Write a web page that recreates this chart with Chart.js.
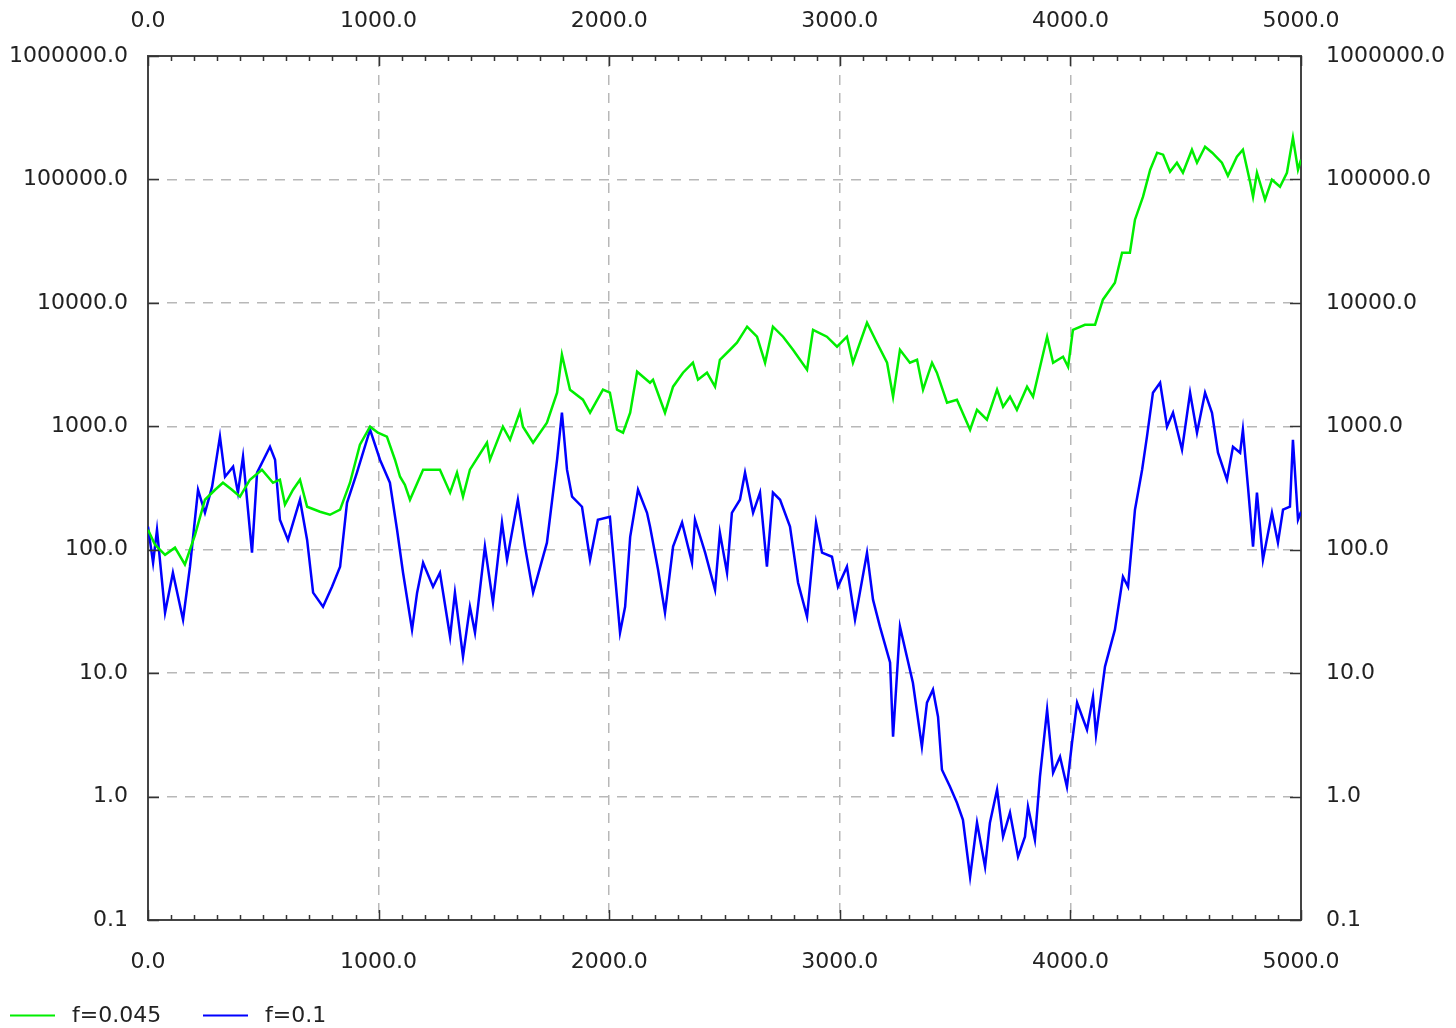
<!DOCTYPE html>
<html>
<head>
<meta charset="utf-8">
<title>f=0.045 / f=0.1</title>
<script src="https://cdn.jsdelivr.net/npm/chart.js@4.4.1/dist/chart.umd.min.js"></script>
<style>
  html, body { margin: 0; padding: 0; background: #ffffff; }
  #wrap { width: 1456px; height: 1028px; }
</style>
</head>
<body>
<div id="wrap"><canvas id="chart" width="1456" height="1028"></canvas></div>
<script>
// Step positions and values for the f=0.045 run
const greenSteps = [0, 30, 74, 117, 160, 204, 247, 291, 325, 364, 399, 442, 494, 542, 572, 594, 629, 659, 690, 746,
  789, 833, 876, 919, 963, 997, 1036, 1071, 1093, 1114, 1136, 1193, 1266, 1310, 1340, 1366, 1396, 1470, 1483, 1539,
  1570, 1613, 1626, 1670, 1730, 1774, 1795, 1830, 1886, 1917, 1973, 2003, 2034, 2060, 2091, 2121, 2177, 2190, 2242, 2277,
  2320, 2363, 2385, 2424, 2459, 2480, 2524, 2554, 2598, 2641, 2676, 2710, 2754, 2797, 2858, 2884, 2944, 2988, 3031, 3057,
  3118, 3161, 3205, 3231, 3261, 3304, 3335, 3361, 3400, 3421, 3465, 3508, 3565, 3595, 3638, 3682, 3708, 3738, 3768, 3812,
  3838, 3899, 3925, 3968, 3990, 4011, 4063, 4107, 4141, 4193, 4224, 4258, 4280, 4315, 4346, 4376, 4402, 4432, 4462, 4488,
  4527, 4549, 4584, 4615, 4657, 4683, 4722, 4748, 4779, 4792, 4809, 4844, 4874, 4909, 4939, 4965, 4987, 5000];
const greenValues = [145, 110, 91, 104, 76, 132, 254, 306, 349, 306, 269, 369, 445, 349, 369, 232, 306, 369, 223, 203,
  192, 211, 349, 709, 993, 887, 824, 536, 390, 336, 254, 445, 445, 290, 421, 269, 445, 736, 536, 993,
  778, 1312, 993, 736, 1069, 1871, 3802, 1979, 1642, 1288, 1979, 1871, 938, 887, 1288, 2767, 2254, 2384, 1288, 2094,
  2717, 3273, 2384, 2717, 2094, 3460, 4169, 4753, 6409, 5318, 3273, 6409, 5318, 4169, 2873, 6053, 5318, 4411, 5318, 3273,
  6904, 4753, 3273, 1737, 4169, 3273, 3460, 1979, 3273, 2717, 1552, 1642, 938, 1361, 1130, 1979, 1441, 1737, 1361, 2094,
  1737, 5318, 3273, 3663, 3039, 6053, 6650, 6650, 10610, 14560, 25470, 25470, 47190, 72470, 119900, 164700, 158700, 115400, 136500, 113300,
  174100, 136500, 184200, 164700, 136500, 107100, 152800, 174100, 95700, 72470, 113300, 68550, 99500, 87300, 113300, 217800, 119900, 144500];

// Step positions and values for the f=0.1 run
const blueSteps = [0, 22, 39, 74, 108, 152, 182, 217, 247, 278, 312, 334, 369, 390, 412, 451, 473, 529, 551, 572,
  607, 659, 690, 716, 759, 798, 833, 863, 906, 963, 1006, 1049, 1080, 1106, 1145, 1167, 1193, 1236, 1266, 1310,
  1331, 1366, 1396, 1418, 1461, 1496, 1535, 1557, 1604, 1635, 1670, 1730, 1774, 1795, 1817, 1839, 1882, 1917, 1951, 2003,
  2047, 2069, 2091, 2125, 2164, 2177, 2212, 2242, 2277, 2316, 2359, 2372, 2416, 2459, 2480, 2511, 2532, 2567, 2589, 2624,
  2654, 2684, 2710, 2741, 2784, 2819, 2858, 2897, 2923, 2966, 2992, 3031, 3066, 3118, 3144, 3174, 3218, 3231, 3261, 3291,
  3317, 3356, 3378, 3404, 3426, 3443, 3478, 3508, 3534, 3565, 3595, 3630, 3651, 3682, 3708, 3738, 3773, 3803, 3816, 3846,
  3868, 3899, 3925, 3955, 3985, 4007, 4029, 4072, 4098, 4111, 4150, 4193, 4228, 4250, 4280, 4311, 4332, 4358, 4389, 4419,
  4445, 4484, 4519, 4549, 4584, 4614, 4640, 4679, 4705, 4736, 4748, 4770, 4792, 4809, 4835, 4874, 4900, 4922, 4952, 4965,
  4987, 5000];
const blueValues = [154, 78.5, 145, 30.9, 65.1, 27.1, 72.8, 306, 199, 324, 824, 390, 470, 290, 567, 94.6, 421, 683, 536, 175,
  120, 254, 120, 44.9, 34.5, 50.1, 72.8, 240, 421, 938, 536, 349, 145, 65.1, 22.5, 44.9, 78.5, 50.1, 65.1, 19.7,
  44.9, 13.6, 34.5, 21.3, 106, 37.2, 166, 83.0, 254, 106, 44.9, 114, 536, 1288, 445, 269, 223, 83.0, 175, 185,
  21.3, 34.5, 127, 306, 199, 154, 68.9, 30.9, 106, 166, 78.5, 175, 94.6, 47.4, 137, 65.1, 199, 254, 421, 199,
  290, 72.8, 290, 254, 154, 54.0, 28.7, 166, 94.6, 87.7, 50.1, 72.8, 27.1, 94.6, 39.4, 23.8, 12.2, 3.05, 23.8, 13.6,
  8.36, 2.54, 5.76, 7.35, 4.44, 1.65, 1.20, 0.891, 0.649, 0.224, 0.614, 0.270, 0.614, 1.14, 0.473, 0.740, 0.326, 0.473, 0.828, 0.447,
  1.45, 5.06, 1.56, 2.10, 1.20, 2.73, 5.76, 3.48, 6.44, 3.17, 11.3, 22.5, 60.4, 50.1, 211, 445, 824, 1871, 2254, 993,
  1288, 646, 1871, 887, 1871, 1288, 611, 369, 683, 611, 938, 324, 106, 290, 83.0, 199, 114, 211, 223, 778,
  175, 203];

// Axis ticks
const xTickValues = [0, 1000, 2000, 3000, 4000, 5000];
const yTickValues = [0.1, 1, 10, 100, 1000, 10000, 100000, 1000000];

const seriesLabels = ['f=0.045', 'f=0.1'];
const seriesColors = ['#00ee00', '#0000ff'];

const FONT = { family: '"DejaVu Sans", sans-serif', size: 22 };
const TEXT_COLOR = '#222222';

function pairs(xs, ys) {
  return xs.map((x, i) => ({ x: x, y: ys[i] }));
}

const fixedTicks = (values) => (scale) => {
  scale.ticks = values.map(v => ({ value: v }));
};

const label1 = (v) => Number(v).toFixed(1);

// Inward tick marks on all four sides of the frame (minor every 100 on x)
const frameTicks = {
  id: 'frameTicks',
  afterDraw(chart) {
    const { ctx, chartArea: a, scales } = chart;
    const xs = scales.x, ys = scales.y;
    ctx.save();
    ctx.strokeStyle = '#333333';
    ctx.lineWidth = 1.5;
    ctx.beginPath();
    for (let v = 0; v <= 5000; v += 100) {
      const px = Math.round(xs.getPixelForValue(v)) + 0.5;
      const len = v % 1000 === 0 ? 10 : 5;
      ctx.moveTo(px, a.top); ctx.lineTo(px, a.top + len);
      ctx.moveTo(px, a.bottom); ctx.lineTo(px, a.bottom - len);
    }
    yTickValues.forEach(v => {
      const py = Math.round(ys.getPixelForValue(v)) + 0.5;
      ctx.moveTo(a.left, py); ctx.lineTo(a.left + 11, py);
      ctx.moveTo(a.right, py); ctx.lineTo(a.right - 11, py);
    });
    ctx.stroke();
    ctx.restore();
  }
};

// Key below the plot, bottom-left
const bottomKey = {
  id: 'bottomKey',
  afterDraw(chart) {
    const { ctx } = chart;
    const y = 1015;
    const items = [
      { x0: 10, x1: 55, tx: 72 },
      { x0: 203, x1: 248, tx: 265 }
    ];
    ctx.save();
    ctx.font = FONT.size + 'px ' + FONT.family;
    ctx.textBaseline = 'middle';
    ctx.textAlign = 'left';
    chart.data.datasets.forEach((ds, i) => {
      const it = items[i];
      ctx.strokeStyle = ds.borderColor;
      ctx.lineWidth = 2;
      ctx.beginPath();
      ctx.moveTo(it.x0, y + 0.5);
      ctx.lineTo(it.x1, y + 0.5);
      ctx.stroke();
      ctx.fillStyle = TEXT_COLOR;
      ctx.fillText(ds.label, it.tx, y + 1);
    });
    ctx.restore();
  }
};

const ctx = document.getElementById('chart').getContext('2d');
new Chart(ctx, {
  type: 'line',
  data: {
    datasets: [
      {
        label: seriesLabels[0],
        data: pairs(greenSteps, greenValues),
        borderColor: seriesColors[0],
        borderWidth: 2.5,
        pointRadius: 0,
        tension: 0,
        fill: false
      },
      {
        label: seriesLabels[1],
        data: pairs(blueSteps, blueValues),
        borderColor: seriesColors[1],
        borderWidth: 2.5,
        pointRadius: 0,
        tension: 0,
        fill: false
      }
    ]
  },
  options: {
    responsive: false,
    animation: false,
    devicePixelRatio: 1,
    layout: { padding: 0 },
    plugins: {
      legend: { display: false },
      tooltip: { enabled: false }
    },
    scales: {
      x: {
        type: 'linear',
        position: 'top',
        min: 0, max: 5000,
        afterBuildTicks: fixedTicks(xTickValues),
        afterFit: (s) => { s.height = 56; },
        ticks: { font: FONT, color: TEXT_COLOR, padding: 22, maxRotation: 0, callback: label1 },
        grid: { color: '#b8b8b8', lineWidth: 1.5, drawTicks: false },
        border: { display: true, color: '#444444', width: 2, dash: [10, 8] }
      },
      x2: {
        type: 'linear',
        position: 'bottom',
        min: 0, max: 5000,
        afterBuildTicks: fixedTicks(xTickValues),
        afterFit: (s) => { s.height = 108; },
        ticks: { font: FONT, color: TEXT_COLOR, padding: 29, maxRotation: 0, callback: label1 },
        grid: { drawOnChartArea: false, drawTicks: false },
        border: { display: true, color: '#444444', width: 2 }
      },
      y: {
        type: 'logarithmic',
        position: 'left',
        min: 0.1, max: 1000000,
        afterBuildTicks: fixedTicks(yTickValues),
        afterFit: (s) => { s.width = 148; },
        ticks: { font: FONT, color: TEXT_COLOR, padding: 20, callback: label1 },
        grid: { color: '#b8b8b8', lineWidth: 1.5, drawTicks: false },
        border: { display: true, color: '#444444', width: 2, dash: [10, 8] }
      },
      y2: {
        type: 'logarithmic',
        position: 'right',
        min: 0.1, max: 1000000,
        afterBuildTicks: fixedTicks(yTickValues),
        afterFit: (s) => { s.width = 155; },
        ticks: { font: FONT, color: TEXT_COLOR, padding: 25, callback: label1 },
        grid: { drawOnChartArea: false, drawTicks: false },
        border: { display: true, color: '#444444', width: 2 }
      }
    }
  },
  plugins: [frameTicks, bottomKey]
});
</script>
</body>
</html>
